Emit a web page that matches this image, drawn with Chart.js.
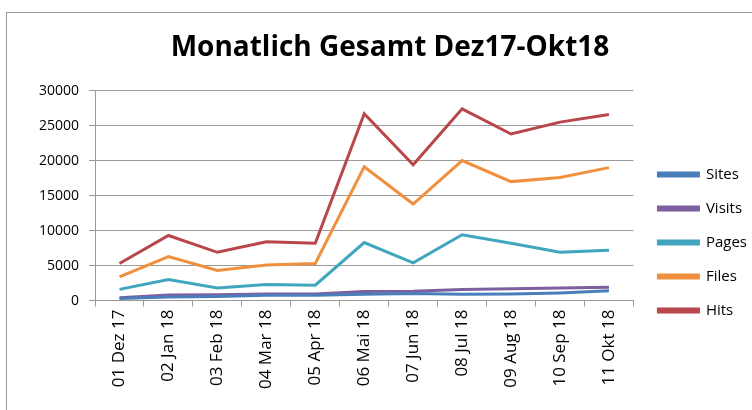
<!DOCTYPE html>
<html>
<head>
<meta charset="utf-8">
<script src="https://cdn.jsdelivr.net/npm/chart.js@4.4.0/dist/chart.umd.min.js"></script>
<style>
  html, body { margin: 0; padding: 0; background: #fff; }
  #frame {
    position: absolute; left: 6px; top: 12px; width: 760px; height: 420px;
    border-left: 1px solid #9a9a9a; border-top: 1px solid #9a9a9a;
  }
  #wrap { position: absolute; left: 7px; top: 13px; width: 745px; height: 397px; }
</style>
</head>
<body>
<div id="frame"></div>
<div id="wrap"><canvas id="chart"></canvas></div>
<script>
// months on the x axis
const labels = ["01 Dez 17", "02 Jan 18", "03 Feb 18", "04 Mar 18", "05 Apr 18", "06 Mai 18",
                "07 Jun 18", "08 Jul 18", "09 Aug 18", "10 Sep 18", "11 Okt 18"];

// series values
const sites  = [300, 500, 600, 750, 750, 900, 1000, 900, 950, 1100, 1400];
const visits = [400, 800, 850, 950, 950, 1300, 1350, 1600, 1700, 1800, 1900];
const pages  = [1600, 3000, 1800, 2300, 2200, 8300, 5400, 9400, 8200, 6900, 7200];
const files  = [3400, 6300, 4300, 5100, 5300, 19100, 13800, 20000, 17000, 17600, 19000];
const hits   = [5300, 9300, 6900, 8400, 8200, 26700, 19400, 27400, 23800, 25500, 26600];

const yTicks = [0, 5000, 10000, 15000, 20000, 25000, 30000];

function series(name, data, color) {
  return {
    label: name, data: data,
    borderColor: color, backgroundColor: color,
    borderWidth: 3, pointRadius: 0, tension: 0
  };
}

const font = "'Open Sans', 'Liberation Sans', sans-serif";

// the legend sits a bit lower and further right than chart.js puts it
const nudgeLegend = {
  id: "nudgeLegend",
  afterLayout(chart) {
    const lg = chart.legend;
    lg.top += 40; lg.bottom += 40;
    lg.left += 6; lg.right += 6;
  }
};

new Chart(document.getElementById("chart"), {
  type: "line",
  data: {
    labels: labels,
    datasets: [
      series("Sites", sites, "#4a7ebb"),
      series("Visits", visits, "#7d5fa0"),
      series("Pages", pages, "#40a6bd"),
      series("Files", files, "#f0903f"),
      series("Hits", hits, "#b8464a")
    ]
  },
  plugins: [nudgeLegend],
  options: {
    responsive: true,
    maintainAspectRatio: false,
    animation: false,
    layout: { padding: { left: 22, right: 1, top: 0, bottom: 18 } },
    plugins: {
      title: {
        display: true,
        text: "Monatlich Gesamt Dez17-Okt18",
        color: "#000",
        font: { family: font, size: 28, weight: "bold" },
        padding: { top: 18, bottom: 26 }
      },
      legend: {
        position: "right",
        labels: {
          color: "#000",
          font: { family: font, size: 15 },
          boxWidth: 40, boxHeight: 3,
          padding: 19
        }
      },
      tooltip: { enabled: false }
    },
    scales: {
      x: {
        offset: true,
        grid: { display: true, drawOnChartArea: false, color: "#9a9a9a", tickLength: 6, offset: true },
        border: { color: "#9a9a9a" },
        ticks: {
          color: "#000", minRotation: 90, maxRotation: 90,
          font: { family: font, size: 17 }
        }
      },
      y: {
        min: 0, max: 30000,
        afterBuildTicks: (axis) => { axis.ticks = yTicks.map(v => ({ value: v })); },
        grid: { color: "#9a9a9a", tickLength: 6 },
        border: { color: "#9a9a9a" },
        ticks: {
          color: "#000", padding: 10,
          font: { family: font, size: 14 },
          callback: (v) => String(v)
        }
      }
    }
  }
});
</script>
</body>
</html>
